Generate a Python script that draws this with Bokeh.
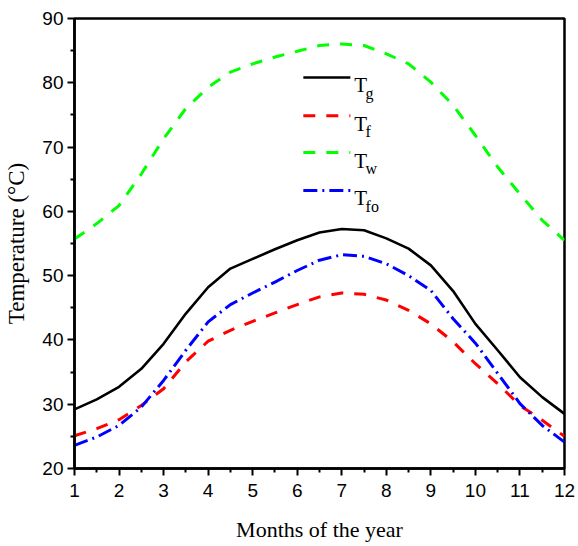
from bokeh.plotting import figure
from bokeh.models import Range1d, FixedTicker, ColumnDataSource
from bokeh.core.properties import value
from bokeh.embed import file_html
from bokeh.resources import INLINE

# ---- data ----
months = [1, 1.5, 2, 2.5, 3, 3.5, 4, 4.5, 5, 5.5, 6, 6.5, 7, 7.5, 8, 8.5, 9, 9.5, 10, 10.5, 11, 11.5, 12]
T_g = [29.2, 30.75, 32.7, 35.5, 39.4, 44.1, 48.2, 51.1, 52.6, 54.1, 55.5, 56.7, 57.25, 57.05, 55.8, 54.2, 51.6, 47.6, 42.5, 38.4, 34.2, 31.1, 28.5]
T_f = [25.1, 26.2, 27.6, 29.8, 32.4, 36.6, 39.8, 41.5, 42.9, 44.2, 45.5, 46.7, 47.3, 47.1, 46.2, 44.6, 42.5, 39.7, 36.3, 33.2, 29.8, 27.5, 25.0]
T_w = [55.7, 58.1, 60.9, 65.8, 71.3, 76.0, 79.3, 81.65, 82.95, 84.0, 84.9, 85.8, 86.05, 85.8, 84.5, 82.95, 80.1, 76.5, 71.8, 66.9, 62.7, 58.6, 55.5]
T_fo = [23.6, 24.9, 26.7, 29.55, 33.7, 38.4, 42.8, 45.5, 47.3, 49.0, 50.8, 52.4, 53.25, 53.0, 51.85, 50.0, 47.7, 43.3, 39.5, 34.8, 30.1, 26.7, 24.1]

x_ticks = [1, 2, 3, 4, 5, 6, 7, 8, 9, 10, 11, 12]
y_ticks = [20, 30, 40, 50, 60, 70, 80, 90]

legend_main = ["T", "T", "T", "T"]
legend_sub = ["g", "f", "w", "fo"]

x_label = "Months of the year"
y_label = "Temperature (\u00b0C)"

# ---- styles ----
series = [
    (T_g, "#000000", "solid", 2.6),
    (T_f, "#FF0000", "12 11", 3),
    (T_w, "#00FF00", "12 11", 3),
    (T_fo, "#0000FF", "14 5 2 5", 3),
]

XMIN, XMAX, YMIN, YMAX = 1, 12, 20, 90

p = figure(width=578, height=546, output_backend="svg", toolbar_location=None,
           x_range=Range1d(XMIN, XMAX), y_range=Range1d(YMIN, YMAX),
           min_border_left=74, min_border_right=14, min_border_top=18, min_border_bottom=78)

p.xgrid.visible = False
p.ygrid.visible = False
p.outline_line_color = "black"
p.outline_line_width = 2.5
p.outline_line_alpha = 1.0
p.background_fill_color = "white"
p.border_fill_color = "white"

for ax in (p.xaxis[0], p.yaxis[0]):
    ax.axis_line_width = 2.5
    ax.major_tick_line_width = 2
    ax.minor_tick_line_width = 2
    ax.major_tick_in = 0
    ax.major_tick_out = 7
    ax.minor_tick_in = 0
    ax.minor_tick_out = 4
    ax.major_label_text_font = "Liberation Sans"
    ax.major_label_text_font_size = "19px"
    ax.major_label_text_color = "black"
    ax.axis_label_text_font = "Liberation Serif"
    ax.axis_label_text_font_size = "22px"
    ax.axis_label_text_font_style = "normal"
    ax.axis_label_text_color = "black"

p.yaxis[0].axis_label_text_font_size = "23px"
p.xaxis[0].ticker = FixedTicker(ticks=x_ticks, minor_ticks=[m + 0.5 for m in x_ticks[:-1]])
p.yaxis[0].ticker = FixedTicker(ticks=y_ticks, minor_ticks=[t + 5 for t in y_ticks[:-1]])
p.xaxis[0].major_label_standoff = 8
p.yaxis[0].major_label_standoff = 4
p.xaxis[0].axis_label = x_label
p.yaxis[0].axis_label = y_label
p.xaxis[0].axis_label_standoff = 17
p.yaxis[0].axis_label_standoff = 10

for ys, color, dash, w in series:
    p.line(months, ys, line_color=color, line_dash=dash, line_width=w)

# ---- legend (drawn manually for subscripts) ----
xs = XMAX - XMIN
ys_ = YMAX - YMIN
row_frac = [0.131, 0.216, 0.298, 0.382]
px_y = ys_ / 450.0  # data units per pixel (approx)
x0 = XMIN + 0.467 * xs
x1 = XMIN + 0.563 * xs
xt = XMIN + 0.571 * xs
xsub = XMIN + 0.594 * xs
for (ys, color, dash, w), rf in zip(series, row_frac):
    yy = YMAX - rf * ys_
    p.line([x0, x1], [yy, yy], line_color=color, line_dash=dash, line_width=w)

row_y = [YMAX - rf * ys_ for rf in row_frac]
src_main = ColumnDataSource(dict(x=[xt] * 4, y=[r - 8 * px_y for r in row_y], t=legend_main))
src_sub = ColumnDataSource(dict(x=[xsub] * 4, y=[r - 16 * px_y for r in row_y], t=legend_sub))
p.text(x="x", y="y", text="t", source=src_main, text_font=value("Liberation Serif"),
       text_font_size="21px", text_baseline="alphabetic", text_align="left", text_color="black")
p.text(x="x", y="y", text="t", source=src_sub, text_font=value("Liberation Serif"),
       text_font_size="16px", text_baseline="alphabetic", text_align="left", text_color="black")

open("out.html", "w").write(file_html(p, INLINE))
